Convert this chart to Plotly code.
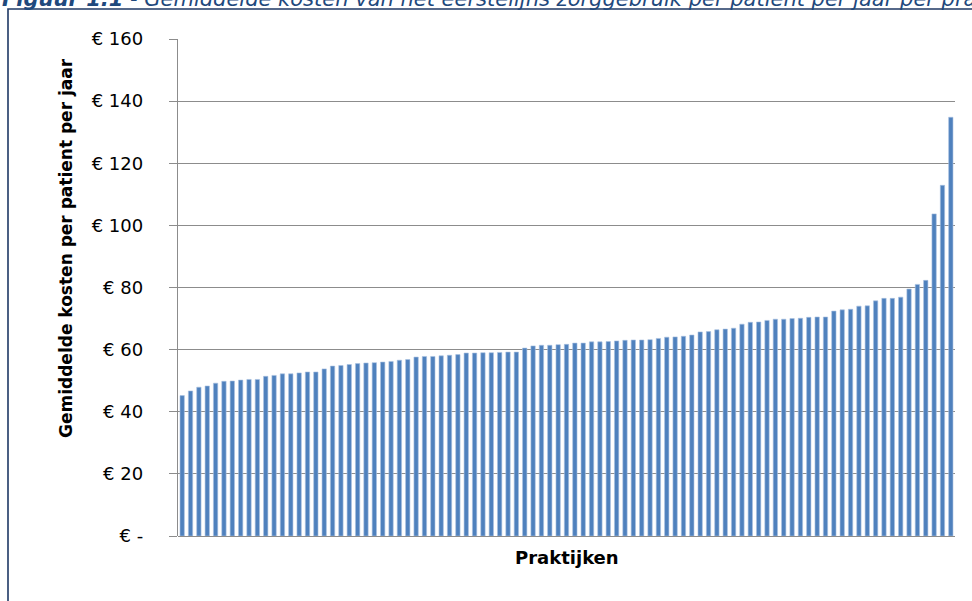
import plotly.graph_objects as go

# Average first-line care cost per patient per year, one bar per practice (sorted)
kosten = [
    45.2, 46.7, 47.9, 48.3, 49.2, 49.8, 49.9, 50.2, 50.4, 50.4,
    51.4, 51.7, 52.2, 52.2, 52.5, 52.8, 52.8, 53.8, 54.7, 54.9,
    55.2, 55.5, 55.7, 55.8, 56.0, 56.2, 56.6, 56.8, 57.6, 57.8,
    57.8, 58.0, 58.2, 58.4, 58.9, 58.9, 59.0, 59.0, 59.1, 59.2,
    59.2, 60.5, 61.2, 61.4, 61.4, 61.6, 61.7, 62.1, 62.1, 62.5,
    62.5, 62.6, 62.8, 63.0, 63.1, 63.1, 63.2, 63.6, 64.0, 64.1,
    64.3, 64.7, 65.7, 65.8, 66.4, 66.6, 66.9, 68.2, 68.8, 68.9,
    69.4, 69.8, 69.8, 70.0, 70.1, 70.4, 70.5, 70.5, 72.4, 72.8,
    73.0, 74.0, 74.1, 75.7, 76.5, 76.5, 76.9, 79.5, 81.0, 82.3,
    103.7, 112.9, 134.8,
]
praktijken = [f"P{i + 1}" for i in range(len(kosten))]

tick_vals = [0, 20, 40, 60, 80, 100, 120, 140, 160]
tick_text = ["€ -", "€ 20", "€ 40", "€ 60", "€ 80", "€ 100", "€ 120", "€ 140", "€ 160"]

titel = ("<b>Figuur 1.1</b> - Gemiddelde kosten van het eerstelijns zorggebruik "
         "per patiënt per jaar per praktijk")
y_titel = "<b>Gemiddelde kosten per patient per jaar</b>"
x_titel = "<b>Praktijken</b>"

W, H = 972, 601
L, R, T, B = 178, 17, 39, 65
pw, ph = W - L - R, H - T - B


def px_x(x):
    return (x - L) / pw


def px_y(y):
    return (H - B - y) / ph


grid = "#8c8c8c"
font = "DejaVu Sans"

fig = go.Figure(
    go.Bar(
        x=praktijken,
        y=kosten,
        marker=dict(color="#4f81bd", line=dict(color="#a9c1e0", width=0.6)),
        hoverinfo="y",
    )
)

fig.update_layout(
    width=W,
    height=H,
    margin=dict(l=L, r=R, t=T, b=B),
    paper_bgcolor="white",
    plot_bgcolor="white",
    bargap=0.48,
    showlegend=False,
    font=dict(family=font, color="black"),
    xaxis=dict(
        showticklabels=False,
        ticks="",
        showgrid=False,
        zeroline=False,
        showline=False,
    ),
    yaxis=dict(
        range=[0, 160],
        tickvals=tick_vals,
        ticktext=tick_text,
        tickfont=dict(size=18, family=font),
        ticks="outside",
        ticklen=8,
        tickcolor=grid,
        tickwidth=1.2,
        ticklabelstandoff=22,
        showgrid=True,
        gridcolor=grid,
        gridwidth=1.4,
        zeroline=True,
        zerolinecolor=grid,
        zerolinewidth=1.4,
        showline=True,
        linecolor=grid,
        linewidth=1.4,
    ),
    shapes=[
        dict(
            type="rect",
            xref="paper",
            yref="paper",
            x0=px_x(8),
            x1=px_x(W + 20),
            y0=px_y(H + 20),
            y1=px_y(9),
            line=dict(color="#1f3864", width=1.6),
            fillcolor="rgba(0,0,0,0)",
            layer="below",
        )
    ],
    annotations=[
        dict(
            text=titel,
            xref="paper",
            yref="paper",
            x=px_x(0),
            y=px_y(13),
            xanchor="left",
            yanchor="bottom",
            showarrow=False,
            font=dict(size=21, family=font, color="#1f497d", style="italic"),
        ),
        dict(
            text=y_titel,
            xref="paper",
            yref="paper",
            x=px_x(66),
            y=px_y(248),
            xanchor="center",
            yanchor="middle",
            textangle=-90,
            showarrow=False,
            font=dict(size=17, family=font, color="black"),
        ),
        dict(
            text=x_titel,
            xref="paper",
            yref="paper",
            x=px_x(567),
            y=px_y(557),
            xanchor="center",
            yanchor="middle",
            showarrow=False,
            font=dict(size=18, family=font, color="black"),
        ),
    ],
)

fig.write_html("out.html")
